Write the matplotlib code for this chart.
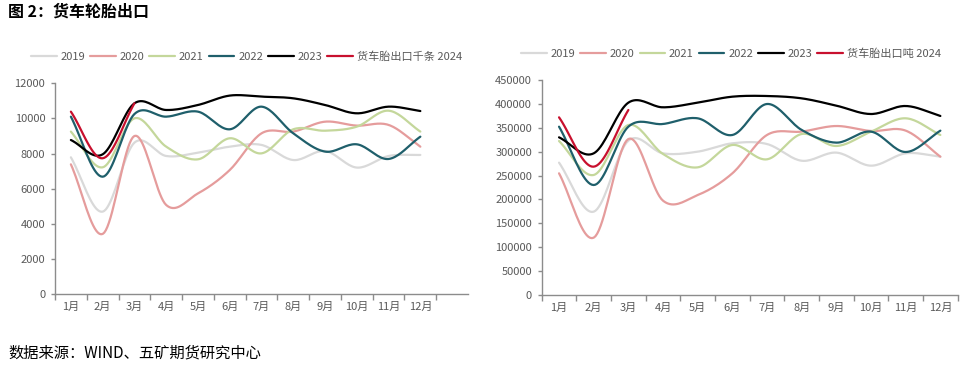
import numpy as np
import matplotlib
matplotlib.use("Agg")
import matplotlib.pyplot as plt
from matplotlib.ticker import FixedLocator

plt.rcParams['font.family'] = ['Noto Sans CJK SC', 'DejaVu Sans']

months = ['1月', '2月', '3月', '4月', '5月', '6月', '7月', '8月', '9月', '10月', '11月', '12月']
years = ['2019', '2020', '2021', '2022', '2023']

# 左图：货车胎出口（千条）
k2019 = [7785, 4690, 8620, 7860, 8050, 8390, 8490, 7630, 8145, 7200, 7860, 7920]
k2020 = [7385, 3420, 9000, 5070, 5730, 7060, 9150, 9250, 9815, 9590, 9630, 8390]
k2021 = [9250, 7215, 10005, 8390, 7670, 8870, 8010, 9380, 9300, 9530, 10440, 9250]
k2022 = [10100, 6680, 10250, 10100, 10385, 9380, 10670, 9150, 8110, 8525, 7690, 8960]
k2023 = [8770, 7955, 10860, 10480, 10765, 11300, 11240, 11145, 10765, 10290, 10670, 10420]
k2024 = [10385, 7730, 10860]

# 右图：货车胎出口（吨）
t2019 = [277000, 174400, 323000, 296500, 300000, 317500, 316000, 281000, 298000, 270700, 296500, 289500]
t2020 = [254700, 120000, 326500, 197400, 209300, 254700, 335000, 342000, 353700, 343300, 344000, 289500]
t2021 = [322300, 251200, 355800, 295100, 267200, 314000, 284000, 337000, 311900, 341900, 369800, 334900]
t2022 = [352300, 230200, 352300, 357900, 369800, 334900, 399800, 345400, 318900, 341900, 299300, 344000]
t2023 = [330000, 296500, 402600, 392800, 402600, 415100, 416500, 411600, 396300, 378800, 395600, 374700]
t2024 = [371900, 268600, 387200]

colors = ['#D9D9D9', '#E59C9C', '#C4D79B', '#1F5F6B', '#000000', '#C8102E']


def smooth(y, n=20):
    """Catmull-Rom spline through the points (like Excel smoothed lines)."""
    y = np.asarray(y, dtype=float)
    x = np.arange(1, len(y) + 1, dtype=float)
    if len(y) < 3:
        return x, y
    px = np.concatenate([[2 * x[0] - x[1]], x, [2 * x[-1] - x[-2]]])
    py = np.concatenate([[2 * y[0] - y[1]], y, [2 * y[-1] - y[-2]]])
    xs, ys = [], []
    t = np.linspace(0, 1, n, endpoint=False)
    for i in range(1, len(px) - 2):
        for arr, a in ((ys, py), (xs, px)):
            a0, a1, a2, a3 = a[i - 1], a[i], a[i + 1], a[i + 2]
            v = 0.5 * ((2 * a1) + (-a0 + a2) * t + (2 * a0 - 5 * a1 + 4 * a2 - a3) * t ** 2
                       + (-a0 + 3 * a1 - 3 * a2 + a3) * t ** 3)
            arr.extend(v)
    xs.append(x[-1]); ys.append(y[-1])
    return np.array(xs), np.array(ys)


fig = plt.figure(figsize=(9.65, 3.73), dpi=100)

axL = fig.add_axes([55 / 965, 1 - 294 / 373, 413 / 965, (294 - 83.3) / 373])
axR = fig.add_axes([541.7 / 965, 1 - 295 / 373, 416 / 965, (295 - 80) / 373])

axis_col = '#8C8C8C'
text_col = '#595959'


def style(ax, xmax, ymax, ystep, tick_end):
    for s in ['top', 'right']:
        ax.spines[s].set_visible(False)
    for s in ['left', 'bottom']:
        ax.spines[s].set_color(axis_col)
        ax.spines[s].set_linewidth(1.0)
    ax.set_xlim(0.5, xmax)
    ax.set_ylim(0, ymax)
    ax.set_yticks(np.arange(0, ymax + 1, ystep))
    ax.set_xticks(np.arange(1, 13))
    ax.set_xticklabels(months)
    ax.xaxis.set_minor_locator(FixedLocator(np.arange(0.5, tick_end, 1.0)))
    ax.tick_params(axis='x', which='major', length=0, pad=6, labelsize=8, labelcolor=text_col)
    ax.tick_params(axis='x', which='minor', length=4, width=1, color=axis_col, direction='out')
    ax.tick_params(axis='y', length=3, width=1, color=axis_col, labelsize=8, labelcolor=text_col, pad=4)


style(axL, 13.5, 12000, 2000, 13.0)
style(axR, 12.5, 450000, 50000, 12.6)

seriesL = [k2019, k2020, k2021, k2022, k2023, k2024]
seriesR = [t2019, t2020, t2021, t2022, t2023, t2024]
labelsL = years + ['货车胎出口千条 2024']
labelsR = years + ['货车胎出口吨 2024']

for ax, series, labels in ((axL, seriesL, labelsL), (axR, seriesR, labelsR)):
    for s, c, lab in zip(series, colors, labels):
        xs, ys = smooth(s)
        ax.plot(xs, ys, color=c, lw=1.6, label=lab, solid_capstyle='round')

legkw = dict(loc='center', ncol=6, frameon=False, fontsize=8, handlelength=2.3,
             handletextpad=0.35, columnspacing=0.45, labelcolor=text_col)
h, l = axL.get_legend_handles_labels()
fig.legend(h, l, bbox_to_anchor=(246.5 / 965, 1 - 57 / 373), **legkw)
h, l = axR.get_legend_handles_labels()
fig.legend(h, l, bbox_to_anchor=(731 / 965, 1 - 53.5 / 373), **legkw)

fig.text(8 / 965, 1 - 12 / 373, '图 2：货车轮胎出口', fontsize=11.5, fontweight='bold',
         ha='left', va='center', color='#000000')
fig.text(8 / 965, 1 - 353 / 373, '数据来源：WIND、五矿期货研究中心', fontsize=11,
         ha='left', va='center', color='#000000')

fig.savefig('out.png', dpi=100)
